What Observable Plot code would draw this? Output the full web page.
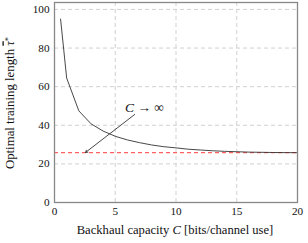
<!DOCTYPE html>
<html><head><meta charset="utf-8">
<script src="https://cdn.jsdelivr.net/npm/d3@7"></script>
<script src="https://cdn.jsdelivr.net/npm/@observablehq/plot@0.6"></script>
<style>body{margin:0;background:#fff}</style>
</head><body><div id="c"></div>
<script>
const capacity = [0.5,1,2,3,4,5,6,7,8,9,10,11,12,13,14,15,16,17,18,19,20];
const tau = [95,64.5,47.5,40.8,37,34.3,32.4,31,29.8,28.9,28.3,27.6,27.2,26.8,26.5,26.3,26.1,26.0,25.9,25.85,25.8];
const asymptote = 25.8;
const xTicks = [0,5,10,15,20];
const yTicks = [0,20,40,60,80,100];
const arrowFrom = [6.6, 45.6];
const arrowTo = [2.55, 25.9];
const annoPos = [7.45, 49.3];
const FONT = '"Liberation Serif", "Times New Roman", Times, serif';

const data = capacity.map((c,i)=>({c, t: tau[i]}));
const plot = Plot.plot({
  width: 308, height: 243,
  marginLeft: 54, marginRight: 11, marginTop: 2, marginBottom: 41,
  style: {fontSize: "11.2px", background: "#fff", color: "#111"},
  x: {domain: [0,20], ticks: xTicks, label: null, tickSize: 0, tickPadding: 5},
  y: {domain: [0,103.6], ticks: yTicks, label: null, tickSize: 0, tickPadding: 5},
  marks: [
    Plot.gridX(xTicks, {stroke: "#ccc", strokeOpacity: 1, strokeDasharray: "4,3", strokeWidth: 0.9}),
    Plot.gridY(yTicks, {stroke: "#ccc", strokeOpacity: 1, strokeDasharray: "4,3", strokeWidth: 0.9}),
    Plot.ruleY([asymptote], {stroke: "#ff3b3b", strokeDasharray: "4,3", strokeWidth: 1}),
    Plot.line(data, {x: "c", y: "t", stroke: "#333", strokeWidth: 0.9}),
    Plot.arrow([{x1: arrowFrom[0], y1: arrowFrom[1], x2: arrowTo[0], y2: arrowTo[1]}], {x1:"x1", y1:"y1", x2:"x2", y2:"y2", stroke: "#333", strokeWidth: 0.9, headLength: 4}),
    Plot.frame({stroke: "#888", strokeWidth: 1.3})
  ]
});
document.getElementById("c").appendChild(plot);
const svg = d3.select(plot);
const sx = plot.scale("x"), sy = plot.scale("y");
// annotation
const t = svg.append("text").attr("x", sx.apply(annoPos[0])).attr("y", sy.apply(annoPos[1]))
  .attr("text-anchor","middle").attr("dy","0.35em").attr("font-size","13.5px").attr("fill","#111");
t.append("tspan").attr("font-style","italic").text("C");
t.append("tspan").text(" → ∞");
// x label
const xl = svg.append("text").attr("x", 175).attr("y", 230).attr("dy","0.35em")
  .attr("text-anchor","middle").attr("font-size","12.6px").attr("fill","#111");
xl.append("tspan").text("Backhaul capacity ");
xl.append("tspan").attr("font-style","italic").text("C");
xl.append("tspan").text(" [bits/channel use]");
// y label
const yl = svg.append("text").attr("transform","translate(10,103) rotate(-90)").attr("dy","0.35em")
  .attr("text-anchor","middle").attr("font-size","12.8px").attr("fill","#111");
yl.append("tspan").text("Optimal training length ");
yl.append("tspan").attr("font-style","italic").style("text-decoration","overline").text("τ");
yl.append("tspan").attr("font-size","8.5px").attr("dy","-0.45em").text("*");
svg.attr("font-family", FONT).style("font-family", FONT);
svg.selectAll("g, text, tspan").attr("font-family", FONT).style("font-family", FONT);
</script></body></html>
